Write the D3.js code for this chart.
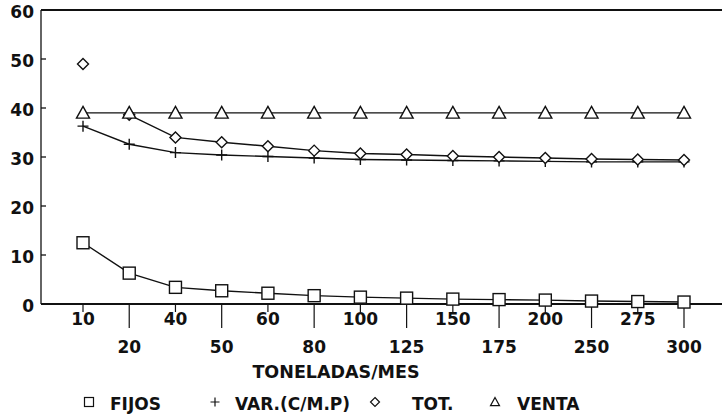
<!DOCTYPE html>
<html><head><meta charset="utf-8">
<script src="https://cdn.jsdelivr.net/npm/d3@7"></script>
<style>body{margin:0;background:#fff}svg{display:block}text{font-family:"DejaVu Sans",sans-serif;font-weight:bold;fill:#111}</style>
</head><body><svg id="c" width="722" height="420"></svg>
<script>
const categories = ["10","20","40","50","60","80","100","125","150","175","200","250","275","300"];
const fijos = [12.5,6.3,3.4,2.7,2.2,1.7,1.4,1.2,1.0,0.9,0.8,0.6,0.5,0.4];
const variable = [36.3,32.6,30.9,30.4,30.1,29.8,29.5,29.4,29.3,29.2,29.1,29.0,29.0,29.0];
const total = [49.0,38.6,34.0,33.0,32.2,31.3,30.7,30.5,30.2,30.0,29.8,29.6,29.5,29.4];
const venta = [39,39,39,39,39,39,39,39,39,39,39,39,39,39];
const yTicks = [0,10,20,30,40,50,60];
const xTitle = "TONELADAS/MES";
const legendLabels = ["FIJOS","VAR.(C/M.P)","TOT.","VENTA"];

const svg = d3.select("#c");
const x = d3.scalePoint().domain(categories).range([83,684]);
const y = d3.scaleLinear().domain([0,60]).range([304,10]);
const ink = "#111";

// frame
svg.append("line").attr("x1",41).attr("x2",41).attr("y1",y(60)).attr("y2",y(0)).attr("stroke",ink).attr("stroke-width",1.3);
svg.append("line").attr("x1",41).attr("x2",722).attr("y1",y(60)).attr("y2",y(60)).attr("stroke",ink).attr("stroke-width",2);
svg.append("line").attr("x1",41).attr("x2",722).attr("y1",y(0)).attr("y2",y(0)).attr("stroke",ink).attr("stroke-width",2);

// y axis ticks (inward)
const ya = svg.append("g");
ya.selectAll("line").data(yTicks).join("line")
  .attr("x1",41).attr("x2",46).attr("y1",d=>y(d)).attr("y2",d=>y(d)).attr("stroke",ink).attr("stroke-width",1.3);
ya.selectAll("text").data(yTicks).join("text")
  .attr("x",34).attr("y",d=>y(d)+8).attr("text-anchor","end").attr("font-size",17).text(d=>d);

// x axis ticks, staggered labels
const xa = svg.append("g");
xa.selectAll("line").data(categories).join("line")
  .attr("x1",d=>x(d)).attr("x2",d=>x(d)).attr("y1",y(0))
  .attr("y2",(d,i)=> i%2===0 ? y(0)+8 : y(0)+24).attr("stroke",ink).attr("stroke-width",1.2);
xa.selectAll("text").data(categories).join("text")
  .attr("x",d=>x(d)).attr("y",(d,i)=> i%2===0 ? 325 : 353)
  .attr("text-anchor","middle").attr("font-size",17).text(d=>d);
svg.append("text").attr("x",336).attr("y",378).attr("text-anchor","middle").attr("font-size",17.5).text(xTitle);

// symbols
function sym(g, type, cx, cy, s){
  if(type==="square") g.append("rect").attr("x",cx-s/2).attr("y",cy-s/2).attr("width",s).attr("height",s);
  else if(type==="plus") g.append("path").attr("d",`M${cx-s/2},${cy}H${cx+s/2}M${cx},${cy-s/2}V${cx===cx?cy+s/2:0}`);
  else if(type==="diamond") g.append("path").attr("d",`M${cx},${cy-s/2}L${cx+s/2},${cy}L${cx},${cy+s/2}L${cx-s/2},${cy}Z`);
  else if(type==="triangle") g.append("path").attr("d",`M${cx},${cy-s/2}L${cx+s/2},${cy+s/2*0.8}L${cx-s/2},${cy+s/2*0.8}Z`);
}

const series = [
  {vals:fijos, type:"square", size:12, start:0},
  {vals:variable, type:"plus", size:11, start:0},
  {vals:total, type:"diamond", size:11, start:1},
  {vals:venta, type:"triangle", size:13, start:0}
];
const line = d3.line().x(d=>x(d.c)).y(d=>y(d.v));
series.forEach(s=>{
  const pts = categories.map((c,i)=>({c, v:s.vals[i], i}));
  svg.append("path").datum(pts.filter(p=>p.i>=s.start)).attr("d",line)
    .attr("fill","none").attr("stroke",ink).attr("stroke-width",1.4);
  const g = svg.append("g").attr("fill","#fff").attr("stroke",ink).attr("stroke-width",1.4);
  pts.forEach(p=>sym(g, s.type, x(p.c), y(p.v), s.size));
});

// legend
const legX = [89,215,375,495], legT = [110,235,412,517];
const lg = svg.append("g").attr("fill","#fff").attr("stroke",ink).attr("stroke-width",1.2);
series.forEach((s,i)=> sym(lg, s.type, legX[i], 402, 9));
svg.selectAll(".lt").data(legendLabels).join("text").attr("class","lt")
  .attr("x",(d,i)=>legT[i]).attr("y",410).attr("font-size",17).text(d=>d);
</script></body></html>
